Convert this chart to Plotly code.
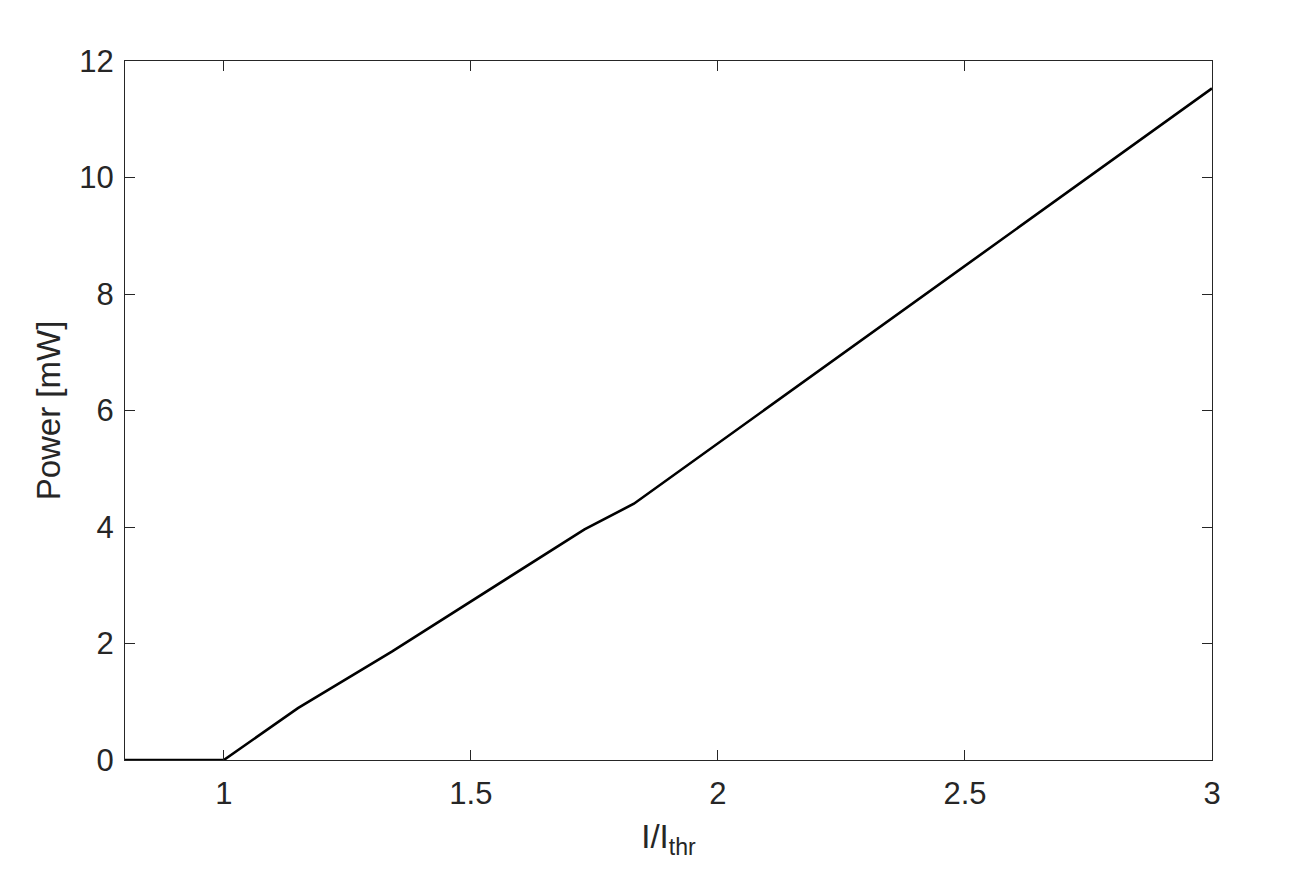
import plotly.graph_objects as go

# Current ratio vs output power
current_ratio = [0.8, 1.0, 1.15, 1.34, 1.73, 1.83, 3.0]
power_mw = [0.0, 0.0, 0.89, 1.86, 3.96, 4.40, 11.53]

x_ticks = [1, 1.5, 2, 2.5, 3]
x_tick_labels = ["1", "1.5", "2", "2.5", "3"]
y_ticks = [0, 2, 4, 6, 8, 10, 12]

AXIS_COLOR = "#262626"
FONT = "Liberation Sans, Arial, sans-serif"

fig = go.Figure()

fig.add_trace(go.Scatter(
    x=current_ratio,
    y=power_mw,
    mode="lines",
    line=dict(color="black", width=2.6),
    showlegend=False,
))

axis_common = dict(
    showline=True,
    linecolor=AXIS_COLOR,
    linewidth=1,
    mirror="ticks",
    ticks="inside",
    ticklen=10,
    tickwidth=1,
    tickcolor=AXIS_COLOR,
    showgrid=False,
    zeroline=False,
    tickfont=dict(family=FONT, size=31, color=AXIS_COLOR),
)

fig.update_xaxes(
    range=[0.8, 3],
    tickvals=x_ticks,
    ticktext=x_tick_labels,
    ticklabelstandoff=6,
    title=dict(text="I/I<sub>thr</sub>", standoff=14,
               font=dict(family=FONT, size=33, color=AXIS_COLOR)),
    **axis_common,
)
fig.update_yaxes(
    range=[0, 12],
    tickvals=y_ticks,
    ticklabelstandoff=4,
    title=dict(text="Power [mW]", standoff=8,
               font=dict(family=FONT, size=33, color=AXIS_COLOR)),
    **axis_common,
)

# the page body adds an 8px offset, so margins are shifted to compensate
fig.update_layout(
    width=1314,
    height=892,
    paper_bgcolor="white",
    plot_bgcolor="white",
    margin=dict(l=117, r=110, t=53, b=140),
)

fig.write_html("out.html")
